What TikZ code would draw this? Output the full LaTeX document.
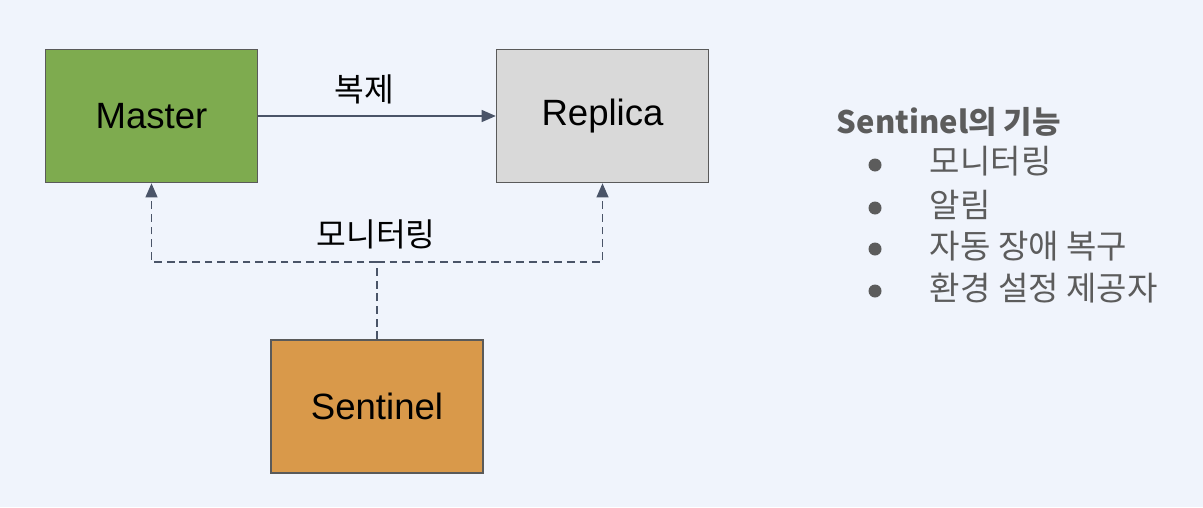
\documentclass[tikz,border=0pt]{standalone}
\usepackage{fontspec}
\setmainfont{Liberation Sans}
\newfontfamily\kr{Noto Sans CJK KR}
\usetikzlibrary{arrows.meta}

\definecolor{bgblue}{HTML}{F0F4FC}
\definecolor{mastergreen}{HTML}{7EAB4F}
\definecolor{replicagray}{HTML}{D9D9D9}
\definecolor{sentinelorange}{HTML}{D9994A}
\definecolor{edgegray}{HTML}{5A5A5A}
\definecolor{linkslate}{HTML}{4A5468}
\definecolor{textgray}{HTML}{5C5C5C}

\begin{document}
\begin{tikzpicture}[x=0.025cm,y=-0.025cm,
  >={Triangle[length=10pt,width=8.5pt]},
  box/.style={draw=edgegray,line width=1pt,minimum width=5.3cm,minimum height=3.33cm,
    inner sep=0pt,font=\fontsize{26}{30}\selectfont},
  link/.style={linkslate,line width=1pt},
  watch/.style={link,dash pattern=on 5.5pt off 3.5pt},
  tag/.style={font=\kr\fontsize{23}{27}\selectfont},
  item/.style={anchor=west,text=textgray,font=\kr\fontsize{23.5}{27}\selectfont}]
\fill[bgblue] (0,0) rectangle (1203,507);

\node[box,fill=mastergreen] (master) at (151.5,116) {Master};
\node[box,fill=replicagray] (replica) at (602.5,116) {Replica};
\node[box,fill=sentinelorange] (sentinel) at (377,406.5) {Sentinel};

\draw[link,->] (master) -- (replica);
\node[tag] (copylabel) at (364,89) {복제};

\coordinate (split) at (377,262);
\draw[watch] (sentinel) -- (split);
\draw[watch,->] (split) -| (master);
\draw[watch,->] (split) -| (replica);
\node[tag] (watchlabel) at (376,234) {모니터링};

\node[item,font=\kr\bfseries\fontsize{22}{26}\selectfont] (title) at (832,122) {Sentinel의 기능};
\node[item] (feat1) at (925,161) {모니터링};
\node[item] (feat2) at (925,205) {알림};
\node[item] (feat3) at (925,246) {자동 장애 복구};
\node[item] (feat4) at (925,288) {환경 설정 제공자};
\fill[textgray] (875,165) circle [radius=6.5];
\fill[textgray] (875,208) circle [radius=6.5];
\fill[textgray] (875,249) circle [radius=6.5];
\fill[textgray] (875,291) circle [radius=6.5];
\end{tikzpicture}
\end{document}
